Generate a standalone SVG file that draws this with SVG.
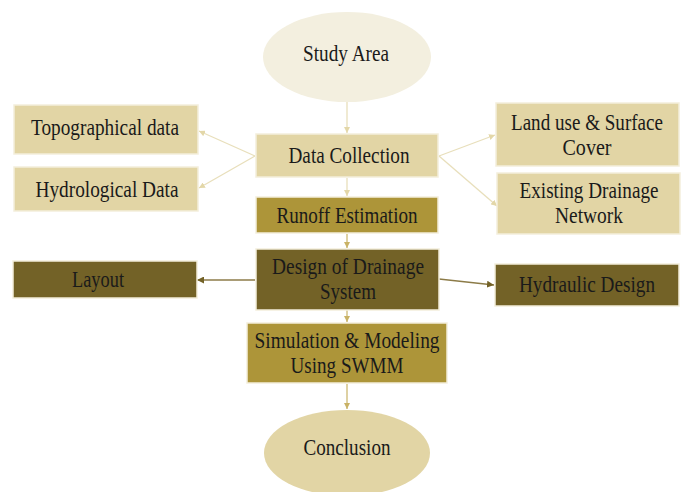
<svg xmlns="http://www.w3.org/2000/svg" width="681" height="492" viewBox="0 0 681 492">
<style>
text{font-family:"Liberation Serif","Times New Roman",serif;font-size:23px;fill:#1a1a1a;text-anchor:middle}
.light{fill:#e2d5a5;stroke:#f3eedb;stroke-width:1.5}
.mid{fill:#ad9539;stroke:#f3eedb;stroke-width:1.5}
.dark{fill:#736227;stroke:#f3eedb;stroke-width:1.5}
.c1{stroke:#e8dfbb;stroke-width:1.3;fill:none;marker-end:url(#a1)}
.c2{stroke:#cdb872;stroke-width:1.3;fill:none;marker-end:url(#a2)}
.c3{stroke:#8c7b48;stroke-width:1.3;fill:none;marker-end:url(#a3)}
</style>
<defs>
<marker id="a1" viewBox="0 0 10 10" refX="10" refY="5" markerWidth="6" markerHeight="6" markerUnits="userSpaceOnUse" orient="auto"><path d="M0,0L10,5L0,10z" fill="#e3d7a8"/></marker>
<marker id="a2" viewBox="0 0 10 10" refX="10" refY="5" markerWidth="6" markerHeight="6" markerUnits="userSpaceOnUse" orient="auto"><path d="M0,0L10,5L0,10z" fill="#c9b266"/></marker>
<marker id="a3" viewBox="0 0 10 10" refX="10" refY="5" markerWidth="7" markerHeight="7" markerUnits="userSpaceOnUse" orient="auto"><path d="M0,0L10,5L0,10z" fill="#736227"/></marker>
</defs>
<rect width="681" height="492" fill="#ffffff"/>
<g id="connectors">
<line class="c1" x1="347" y1="102" x2="347" y2="133"/>
<line class="c1" x1="255" y1="156" x2="199" y2="131"/>
<line class="c1" x1="255" y1="156" x2="199" y2="188"/>
<line class="c1" x1="439" y1="156" x2="495" y2="135"/>
<line class="c1" x1="439" y1="156" x2="497" y2="206"/>
<line class="c1" x1="347" y1="178" x2="347" y2="196"/>
<line class="c2" x1="347" y1="234" x2="347" y2="248"/>
<line class="c3" x1="255" y1="280" x2="197" y2="280"/>
<line class="c3" x1="439" y1="279" x2="494" y2="285"/>
<line class="c2" x1="347" y1="310" x2="347" y2="322"/>
<line class="c2" x1="347" y1="384" x2="347" y2="409"/>
</g>
<g id="study-area">
<ellipse cx="347" cy="57" rx="84" ry="45" fill="#f3efdf"/>
<text x="346" y="61" textLength="86" lengthAdjust="spacingAndGlyphs">Study Area</text>
</g>
<g id="data-collection">
<rect class="light" x="256" y="134" width="182" height="43"/>
<text x="349" y="163" textLength="121" lengthAdjust="spacingAndGlyphs">Data Collection</text>
</g>
<g id="topographical-data">
<rect class="light" x="14" y="105" width="184" height="49"/>
<text x="105" y="135" textLength="148" lengthAdjust="spacingAndGlyphs">Topographical data</text>
</g>
<g id="hydrological-data">
<rect class="light" x="14" y="167" width="184" height="44"/>
<text x="107" y="197" textLength="143" lengthAdjust="spacingAndGlyphs">Hydrological Data</text>
</g>
<g id="land-use">
<rect class="light" x="496" y="103" width="183" height="63"/>
<text x="587" y="130" textLength="152" lengthAdjust="spacingAndGlyphs">Land use &amp; Surface</text>
<text x="587" y="155" textLength="49" lengthAdjust="spacingAndGlyphs">Cover</text>
</g>
<g id="existing-drainage">
<rect class="light" x="497" y="173" width="183" height="61"/>
<text x="589" y="198" textLength="139" lengthAdjust="spacingAndGlyphs">Existing Drainage</text>
<text x="589" y="223" textLength="68" lengthAdjust="spacingAndGlyphs">Network</text>
</g>
<g id="runoff-estimation">
<rect class="mid" x="256" y="197" width="182" height="36"/>
<text x="347" y="223" textLength="141" lengthAdjust="spacingAndGlyphs">Runoff Estimation</text>
</g>
<g id="design-drainage">
<rect class="dark" x="256" y="249" width="183" height="61"/>
<text x="348" y="274" textLength="152" lengthAdjust="spacingAndGlyphs">Design of Drainage</text>
<text x="348" y="299" textLength="56" lengthAdjust="spacingAndGlyphs">System</text>
</g>
<g id="layout">
<rect class="dark" x="13" y="261" width="184" height="37"/>
<text x="98" y="287" textLength="52" lengthAdjust="spacingAndGlyphs">Layout</text>
</g>
<g id="hydraulic-design">
<rect class="dark" x="495" y="264" width="184" height="42"/>
<text x="587" y="292" textLength="136" lengthAdjust="spacingAndGlyphs">Hydraulic Design</text>
</g>
<g id="simulation">
<rect class="mid" x="247" y="323" width="200" height="60"/>
<text x="347" y="348" textLength="185" lengthAdjust="spacingAndGlyphs">Simulation &amp; Modeling</text>
<text x="347" y="373" textLength="113" lengthAdjust="spacingAndGlyphs">Using SWMM</text>
</g>
<g id="conclusion">
<ellipse cx="347" cy="453" rx="83" ry="43" fill="#e2d5a5"/>
<text x="347" y="455" textLength="87" lengthAdjust="spacingAndGlyphs">Conclusion</text>
</g>
</svg>
